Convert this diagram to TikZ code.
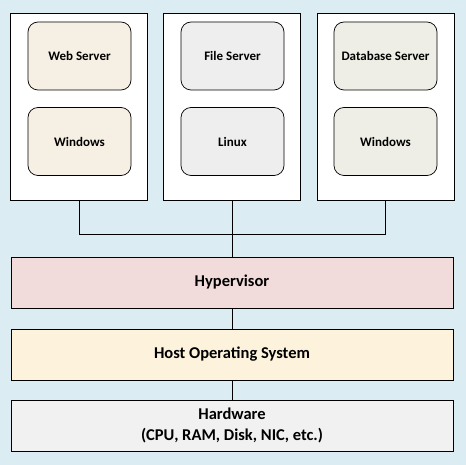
\documentclass[tikz,border=0pt]{standalone}
\usepackage{fontspec}
\setmainfont{Carlito}
\usetikzlibrary{backgrounds}

\definecolor{bgblue}{HTML}{DBEDF2}
\definecolor{webfill}{HTML}{F6EFE3}
\definecolor{filefill}{HTML}{EEEEEE}
\definecolor{dbfill}{HTML}{EEEEE7}
\definecolor{hypfill}{HTML}{F2DCDB}
\definecolor{hostfill}{HTML}{FDF2DB}
\definecolor{hwfill}{HTML}{F1F1F1}

\tikzset{
  vmbox/.style={draw, line width=0.8pt, fill=white, minimum width=137pt, minimum height=187pt, inner sep=0pt},
  appbox/.style={draw, line width=0.7pt, rounded corners=10pt, minimum width=103pt, minimum height=68pt, inner sep=0pt, font=\bfseries\fontsize{13}{15}\selectfont},
  layerbox/.style={draw, line width=0.8pt, minimum width=442pt, minimum height=51pt, inner sep=0pt, align=center, font=\bfseries\fontsize{16.5}{20.5}\selectfont},
  wire/.style={line width=0.8pt}
}

\begin{document}
\begin{tikzpicture}[x=1pt, y=-1pt]

\useasboundingbox (0,0) rectangle (466,465);

\begin{pgfonlayer}{background}
\fill [bgblue] (0,0) rectangle (466,465);
\end{pgfonlayer}

\node [vmbox] (vm1) at (79,106.5) {};
\node [vmbox] (vm2) at (232,106.5) {};
\node [vmbox] (vm3) at (385.5,106.5) {};

\node [appbox, fill=webfill] (web) at (79.5,56) {Web Server};
\node [appbox, fill=webfill] (win1) at (79.5,141.5) {Windows};
\node [appbox, fill=filefill] (file) at (232.5,56) {File Server};
\node [appbox, fill=filefill] (linux) at (232.5,141.5) {Linux};
\node [appbox, fill=dbfill] (db) at (385.5,56) {Database Server};
\node [appbox, fill=dbfill] (win2) at (385.5,141.5) {Windows};

\node [layerbox, fill=hypfill] (hyp) at (232,282.5) {Hypervisor};
\node [layerbox, fill=hostfill] (host) at (232,354.5) {Host Operating System};
\node [layerbox, fill=hwfill] (hw) at (232,425.5) {Hardware\\(CPU, RAM, Disk, NIC, etc.)};

%%%%%%%%%%%%%%% Connections
\coordinate (bus) at (232,234);

\draw [wire] (vm1.south) |- (bus);
\draw [wire] (vm3.south) |- (bus);
\draw [wire] (vm2.south) -- (hyp.north);
\draw [wire] (hyp.south) -- (host.north);
\draw [wire] (host.south) -- (hw.north);

\end{tikzpicture}
\end{document}
